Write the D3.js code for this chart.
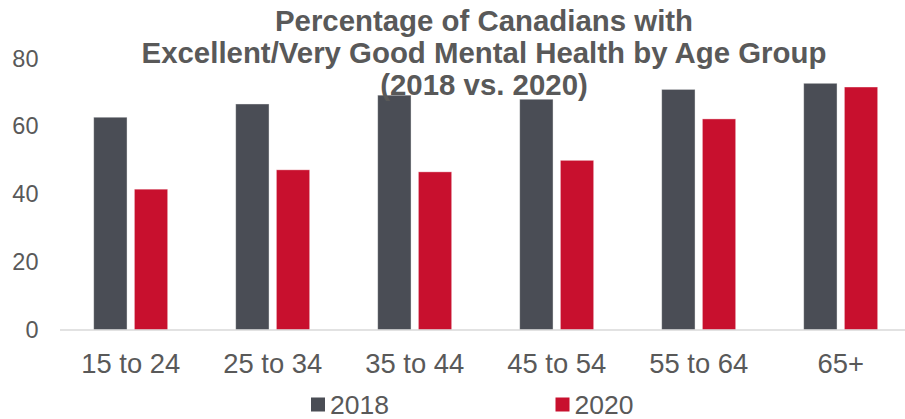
<!DOCTYPE html>
<html>
<head>
<meta charset="utf-8">
<script src="https://cdn.jsdelivr.net/npm/d3@7"></script>
<style>
body { margin: 0; background: #fff; }
svg { display: block; font-family: "Liberation Sans", Arial, sans-serif; }
</style>
</head>
<body>
<svg width="905" height="419"></svg>
<script>
// chart data
var ageGroups = ["15 to 24", "25 to 34", "35 to 44", "45 to 54", "55 to 64", "65+"];
var series = ["2018", "2020"];
var values2018 = [62.7, 66.6, 69.2, 68.0, 70.9, 72.7];
var values2020 = [41.5, 47.2, 46.6, 50.0, 62.2, 71.6];
var yTicks = [0, 20, 40, 60, 80];
var titleLines = ["Percentage of Canadians with", "Excellent/Very Good Mental Health by Age Group", "(2018 vs. 2020)"];

var colors = { "2018": "#4a4d55", "2020": "#c8102e" };
var textColor = "#595959";

var svg = d3.select("svg");

// scales
var x0 = d3.scaleBand().domain(ageGroups).range([59.7, 911.7]);
var x1 = d3.scaleBand().domain(series).range([34, 108]).paddingInner(0.18);
var y = d3.scaleLinear().domain([0, 80]).range([330, 58.5]);

// y axis labels (no line, no ticks)
var yAxis = d3.axisLeft(y).tickValues(yTicks).tickSize(0).tickPadding(0);
var gy = svg.append("g")
	.attr("transform", "translate(38.5,0)")
	.call(yAxis);
gy.select(".domain").remove();
gy.selectAll("text")
	.attr("fill", textColor)
	.style("font-size", "23.5px")
	.style("font-family", "'Liberation Sans', Arial, sans-serif");

// bars
var rows = ageGroups.map(function(g, i) {
	return { group: g, vals: [{ s: "2018", v: values2018[i] }, { s: "2020", v: values2020[i] }] };
});

var groups = svg.selectAll(".grp")
	.data(rows)
	.enter().append("g")
	.attr("class", "grp")
	.attr("transform", function(d) { return "translate(" + x0(d.group) + ",0)"; });

groups.selectAll("rect")
	.data(function(d) { return d.vals; })
	.enter().append("rect")
	.attr("x", function(d) { return x1(d.s); })
	.attr("y", function(d) { return y(d.v); })
	.attr("width", x1.bandwidth())
	.attr("height", function(d) { return y(0) - y(d.v); })
	.attr("fill", function(d) { return colors[d.s]; })
	.attr("stroke", "#fff")
	.attr("stroke-opacity", 0.5)
	.attr("stroke-width", 0.8);

// x axis baseline and labels
var xAxis = d3.axisBottom(x0).tickSize(0).tickPadding(0);
var gx = svg.append("g")
	.attr("transform", "translate(0," + y(0) + ")")
	.call(xAxis);
gx.select(".domain").remove();
svg.append("line")
	.attr("x1", 60).attr("x2", 905)
	.attr("y1", y(0)).attr("y2", y(0))
	.attr("stroke", "#d9d9d9")
	.attr("stroke-width", 1.5);
gx.selectAll("text")
	.attr("y", 0)
	.attr("dy", 0)
	.attr("transform", "translate(0,42.5)")
	.attr("fill", textColor)
	.style("font-size", "27.4px")
	.style("font-family", "'Liberation Sans', Arial, sans-serif");

// title
svg.append("text")
	.attr("text-anchor", "middle")
	.attr("fill", textColor)
	.style("font-size", "29.4px")
	.style("font-weight", "bold")
	.selectAll("tspan")
	.data(titleLines)
	.enter().append("tspan")
	.attr("x", 484)
	.attr("y", function(d, i) { return 31 + i * 32; })
	.text(function(d) { return d; });

// legend
var legendX = { "2018": 311, "2020": 555.5 };
var legend = svg.selectAll(".leg")
	.data(series)
	.enter().append("g")
	.attr("class", "leg")
	.attr("transform", function(d) { return "translate(" + legendX[d] + ",397.5)"; });
legend.append("rect")
	.attr("width", 14).attr("height", 14)
	.attr("fill", function(d) { return colors[d]; });
legend.append("text")
	.attr("x", 19)
	.attr("y", 16)
	.attr("fill", textColor)
	.style("font-size", "26.5px")
	.text(function(d) { return d; });
</script>
</body>
</html>
